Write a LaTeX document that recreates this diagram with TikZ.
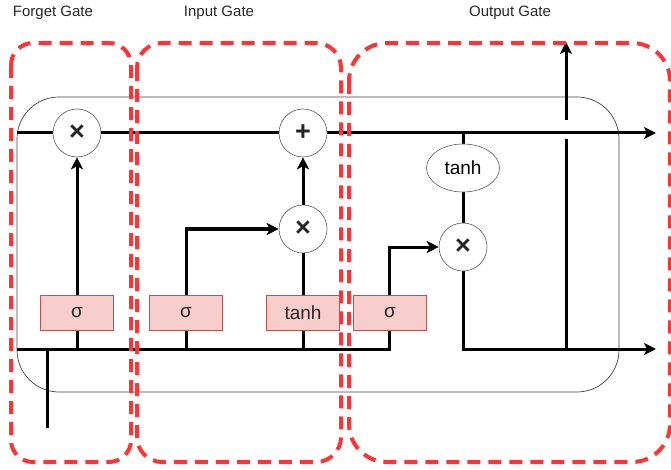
\documentclass[tikz,border=0pt]{standalone}
\usepackage{fontspec}
\setmainfont{Liberation Sans}
\usetikzlibrary{arrows.meta,shapes.geometric}
\pgfdeclarelayer{bg}
\pgfsetlayers{bg,main}
\definecolor{gatered}{HTML}{FF3333}
\definecolor{gatefill}{HTML}{F8CECC}
\definecolor{gatedraw}{HTML}{B85450}
\begin{document}
\begin{tikzpicture}[x=1pt,y=-1pt,
  wire/.style={line width=3pt, draw=black},
  arr/.style={wire, -{Stealth[length=12pt,width=12pt,inset=3pt]}},
  op/.style={circle, draw=black!65, line width=0.6pt, fill=white, minimum size=48pt, inner sep=0pt, font=\fontsize{27}{27}\selectfont\bfseries, text=black!85},
  gate/.style={rectangle, draw=gatedraw, line width=0.6pt, fill=gatefill, minimum width=73pt, minimum height=35pt, inner sep=0pt, font=\fontsize{19}{19}\selectfont, text=black!85},
  act/.style={ellipse, draw=black!65, line width=0.6pt, fill=white, minimum width=73pt, minimum height=48pt, inner sep=0pt, font=\fontsize{19}{19}\selectfont},
  gatebox/.style={draw=gatered, line width=4pt, dash pattern=on 13pt off 8pt},
  title/.style={font=\fontsize{15}{15}\selectfont, text=black!85}]
\useasboundingbox (0,0) rectangle (671,470);

% titles
\node[title] (lf) at (53,13) {Forget Gate};
\node[title] (li) at (219,13) {Input Gate};
\node[title] (lo) at (510,13) {Output Gate};

% nodes
\node[gate] (fs) at (77,313) {σ};
\node[gate] (is) at (186,313) {σ};
\node[gate] (it) at (303,313) {tanh};
\node[gate] (os) at (390,313) {σ};
\node[op] (fx) at (77,133) {×};
\node[op] (ip) at (303,133) {+};
\node[op] (ix) at (303,229) {×};
\node[op] (ox) at (463,247) {×};
\node[act] (ot) at (463,168) {tanh};

% coordinates
\coordinate (cin) at (17,133);
\coordinate (cout) at (656,133);
\coordinate (hin) at (17,349);
\coordinate (xin) at (47,428);
\coordinate (xj) at (47,349);
\coordinate (fj) at (77,349);
\coordinate (ij) at (186,349);
\coordinate (tj) at (303,349);
\coordinate (oj) at (389,349);
\coordinate (oc) at (463,133);
\coordinate (hb) at (463,349);
\coordinate (hj) at (566,349);
\coordinate (hout) at (656,349);
\coordinate (g1) at (566,139);
\coordinate (g2) at (566,120);
\coordinate (hup) at (566,42);

\begin{pgfonlayer}{bg}
\draw[line width=0.7pt, draw=black!75, rounded corners=42pt] (17,97) rectangle (619,392);
\draw[wire] (cin) -- (fx);
\draw[wire] (fx) -- (ip);
\draw[arr] (ip) -- (cout);
\draw[arr] (hin) -- (oj) |- (ox.west);
\draw[wire] (xin) -- (xj);
\draw[arr] (fj) -- (fx);
\draw[arr] (ij) |- (ix.west);
\draw[wire] (tj) -- (ix);
\draw[arr] (ix) -- (ip);
\draw[wire] (oc) -- (ot);
\draw[wire] (ot) -- (ox);
\draw[arr] (ox) -- (hb) -- (hout);
\draw[wire] (hj) -- (g1);
\draw[arr] (g2) -- (hup);
\end{pgfonlayer}

% gate regions
\draw[gatebox, rounded corners=22pt] (11,43) rectangle (131,462);
\draw[gatebox, rounded corners=25pt] (137,43) rectangle (341,462);
\draw[gatebox, rounded corners=38pt] (349,43) rectangle (670,462);
\end{tikzpicture}
\end{document}
